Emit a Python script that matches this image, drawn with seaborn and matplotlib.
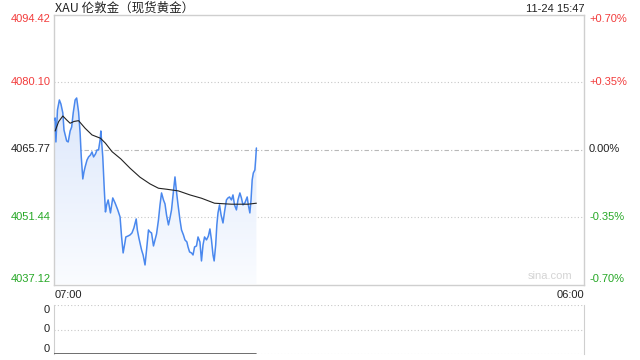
import numpy as np
import pandas as pd
import matplotlib
matplotlib.use("Agg")
import matplotlib.pyplot as plt
from matplotlib.colors import LinearSegmentedColormap
import seaborn as sns

# ---- data ----
title = "XAU 伦敦金（现货黄金）"
stamp = "11-24 15:47"
prev_close = 4065.77
y_ticks = [4094.42, 4080.10, 4065.77, 4051.44, 4037.12]
pct_labels = ["+0.70%", "+0.35%", "0.00%", "-0.35%", "-0.70%"]
x_labels = ["07:00", "06:00"]
session_minutes = 1380  # 07:00 -> 06:00 next day

minutes = [0, 3, 5, 9, 14, 18, 23, 26, 33, 37, 42, 46, 50, 55, 59, 64, 68, 71, 75, 78,
           81, 86, 90, 95, 99, 103, 108, 112, 116, 120, 122, 127, 131, 134, 137, 141, 147, 153, 159, 166,
           172, 176, 180, 185, 187, 193, 198, 203, 208, 214, 217, 221, 228, 232, 237, 241, 246, 250, 254, 259,
           263, 267, 272, 276, 280, 285, 289, 293, 298, 302, 306, 310, 315, 319, 323, 328, 332, 337, 341, 346,
           349, 353, 358, 362, 366, 371, 375, 380, 384, 388, 392, 397, 402, 406, 410, 414, 417, 421, 424, 427,
           431, 435, 440, 444, 449, 453, 457, 462, 466, 470, 475, 479, 484, 488, 492, 497, 503, 506, 510, 513,
           516, 519, 523, 525, 527]
prices = [4072.04, 4072.46, 4067.37, 4074.16, 4076.28, 4075.43, 4073.52, 4069.91, 4067.58, 4067.37,
          4069.70, 4070.55, 4073.52, 4076.28, 4076.70, 4073.73, 4069.28, 4064.19, 4059.52, 4061.00,
          4062.06, 4063.55, 4064.19, 4064.61, 4065.25, 4064.19, 4064.82, 4065.67, 4065.67, 4067.79,
          4069.70, 4064.19, 4057.19, 4052.52, 4054.01, 4055.07, 4052.31, 4055.49, 4054.43, 4052.95,
          4051.46, 4047.21, 4043.82, 4046.15, 4047.21, 4047.42, 4047.64, 4048.06, 4049.12, 4051.03,
          4048.70, 4047.00, 4044.45, 4043.39, 4041.27, 4044.45, 4048.70, 4048.27, 4048.06, 4045.30,
          4046.58, 4047.85, 4050.82, 4054.01, 4056.55, 4055.07, 4054.22, 4051.88, 4049.76, 4051.24,
          4052.95, 4056.13, 4059.95, 4056.76, 4054.01, 4050.82, 4048.70, 4047.64, 4046.58, 4046.15,
          4045.09, 4044.03, 4043.82, 4043.39, 4045.09, 4045.30, 4047.21, 4046.15, 4042.12, 4045.51,
          4047.21, 4046.58, 4047.42, 4048.91, 4046.58, 4043.39, 4042.12, 4045.51, 4049.76, 4052.31,
          4054.01, 4051.88, 4050.18, 4052.52, 4055.07, 4055.49, 4055.70, 4055.07, 4056.13, 4054.01,
          4052.95, 4055.07, 4056.55, 4055.49, 4054.01, 4054.43, 4055.70, 4054.01, 4052.31, 4055.07,
          4059.31, 4060.79, 4061.43, 4063.55, 4066.09]

avg_minutes = [3, 12, 23, 33, 42, 52, 64, 81, 99, 121, 134, 151, 174, 198, 224, 250, 272, 293,
               324, 354, 384, 418, 462, 505, 527]
avg_prices = [4069.70, 4071.67, 4072.88, 4072.04, 4071.34, 4071.72, 4071.89, 4070.28, 4068.86,
              4068.16, 4067.10, 4065.32, 4063.77, 4061.80, 4059.89, 4058.47, 4057.55, 4057.34,
              4056.98, 4056.13, 4055.43, 4054.37, 4054.16, 4054.16, 4054.37]

volumes = [0] * len(minutes)
vol_labels = ["0", "0", "0"]

# ---- style ----
sns.set_style("white")
plt.rcParams['font.family'] = ['Liberation Sans', 'Noto Sans CJK SC', 'DejaVu Sans']

RED = "#f23c3c"
GREEN = "#26a826"
BLUE = "#4a88ee"
BORDER = "#cfcfcf"

fig = plt.figure(figsize=(6.4, 3.6), dpi=100)
L, R = 54 / 640, 584 / 640
ax = fig.add_axes([L, 1 - 284.5 / 360, R - L, 270 / 360])
axv = fig.add_axes([L, 1 - 354 / 360, R - L, 49 / 360])

ymin, ymax = y_ticks[-1], y_ticks[0]
df = pd.DataFrame({"t": minutes, "p": prices})
dfa = pd.DataFrame({"t": avg_minutes, "p": avg_prices})

# gradient fill under price
poly = ax.fill_between(df["t"], df["p"], ymin, color="none", lw=0)
cmap = LinearSegmentedColormap.from_list("g", ["#dce7fb", "#fafcff"])
grad = np.linspace(0, 1, 256).reshape(-1, 1)
im = ax.imshow(grad, cmap=cmap, aspect="auto", origin="upper",
               extent=[min(minutes), max(minutes), ymin, max(prices)], zorder=1)
im.set_clip_path(poly.get_paths()[0], transform=ax.transData)

sns.lineplot(data=df, x="t", y="p", ax=ax, color=BLUE, lw=1.1, zorder=3)
sns.lineplot(data=dfa, x="t", y="p", ax=ax, color="#222222", lw=0.8, zorder=4)

ax.set_xlim(0, session_minutes)
ax.set_ylim(ymin, ymax)
ax.set_xticks([])
ax.set_yticks([])
ax.set_xlabel("")
ax.set_ylabel("")
for s in ax.spines.values():
    s.set_color(BORDER)
    s.set_linewidth(1.0)

ax.axhline(y_ticks[1], color="#c8c8c8", lw=0.8, ls=(0, (1, 2)), zorder=0)
ax.axhline(y_ticks[3], color="#c8c8c8", lw=0.8, ls=(0, (1, 2)), zorder=0)
ax.axhline(prev_close, color="#b8b8b8", lw=0.8, ls=(0, (4, 2, 1, 2)), zorder=0)

label_colors = [RED, RED, "#222222", GREEN, GREEN]
vas = ["top", "center", "center", "center", "bottom"]
for yv, pl, c, va in zip(y_ticks, pct_labels, label_colors, vas):
    ax.text(-3 / 530, yv, f"{yv:.2f}", transform=ax.get_yaxis_transform(),
            ha="right", va=va, color=c, fontsize=8)
    ax.text(1 + 5 / 530, yv, pl, transform=ax.get_yaxis_transform(),
            ha="left", va=va, color=c, fontsize=8)

fig.text(55 / 640, 1 - 8 / 360, title, ha="left", va="center",
         fontsize=9, color="#222222", family=['Noto Sans CJK SC', 'DejaVu Sans'])
fig.text(584 / 640, 1 - 8.5 / 360, stamp, ha="right", va="center",
         fontsize=8, color="#222222")
ax.text(0.002, -0.022, x_labels[0], transform=ax.transAxes, ha="left", va="top",
        fontsize=8, color="#222222")
ax.text(1.0, -0.022, x_labels[1], transform=ax.transAxes, ha="right", va="top",
        fontsize=8, color="#222222")
ax.text(0.978, 0.012, "sina.com", transform=ax.transAxes, ha="right", va="bottom",
        fontsize=8, color="#d4d4d4")

# volume panel
dfv = pd.DataFrame({"t": minutes, "v": volumes})
axv.set_xlim(0, session_minutes)
axv.set_ylim(0, 1)
for yv in (0, 0.5, 1):
    axv.axhline(yv, color="#c8c8c8", lw=0.8, ls=(0, (1, 2)), zorder=0)
sns.lineplot(data=dfv, x="t", y="v", ax=axv, color="#555555", lw=1.2, zorder=3)
axv.set_xticks([])
axv.set_yticks([])
axv.set_xlabel("")
axv.set_ylabel("")
axv.spines["top"].set_visible(False)
axv.spines["bottom"].set_visible(False)
axv.spines["left"].set_color(BORDER)
axv.spines["right"].set_color(BORDER)
for yf, va, lab in zip((1, 0.5, 0), ("top", "center", "bottom"), vol_labels):
    axv.text(-4 / 530, yf, lab, transform=axv.transAxes, ha="right", va=va,
             fontsize=8, color="#222222")

fig.savefig("out.png", dpi=100)
